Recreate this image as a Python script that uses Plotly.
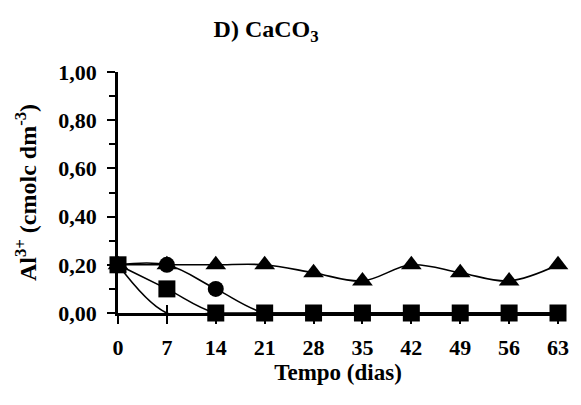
import plotly.graph_objects as go

days = [0, 7, 14, 21, 28, 35, 42, 49, 56, 63]
tri_vals = [0.20, 0.20, 0.20, 0.20, 0.167, 0.133, 0.20, 0.167, 0.133, 0.20]
circ_vals = [0.20, 0.20, 0.10, 0.00, 0.00, 0.00, 0.00, 0.00, 0.00, 0.00]
sq_vals = [0.20, 0.10, 0.00, 0.00, 0.00, 0.00, 0.00, 0.00, 0.00, 0.00]
plain_vals = [0.20, 0.00, 0.00, 0.00, 0.00, 0.00, 0.00, 0.00, 0.00, 0.00]

y_tickvals = [0, 0.2, 0.4, 0.6, 0.8, 1.0]
y_ticktext = ["0,00", "0,20", "0,40", "0,60", "0,80", "1,00"]
x_ticktext = [str(d) for d in days]

FONT = "Liberation Serif"
line_style = dict(color="black", width=1.6, shape="spline", smoothing=1)

fig = go.Figure()
fig.add_trace(go.Scatter(x=days, y=plain_vals, mode="lines", line=line_style,
                         cliponaxis=False, showlegend=False))
fig.add_trace(go.Scatter(x=days, y=tri_vals, mode="lines+markers", line=line_style,
                         marker=dict(symbol="triangle-up", size=18, color="black"),
                         cliponaxis=False, showlegend=False))
fig.add_trace(go.Scatter(x=days, y=circ_vals, mode="lines+markers", line=line_style,
                         marker=dict(symbol="circle", size=16, color="black"),
                         cliponaxis=False, showlegend=False))
fig.add_trace(go.Scatter(x=days, y=sq_vals, mode="lines+markers", line=line_style,
                         marker=dict(symbol="square", size=17, color="black"),
                         cliponaxis=False, showlegend=False))
# invisible trace to activate overlay axis used for crossing ticks
fig.add_trace(go.Scatter(x=[days[0]], y=[0], xaxis="x2", mode="markers",
                         marker=dict(opacity=0), hoverinfo="skip", showlegend=False))

fig.update_layout(
    width=581, height=405,
    margin=dict(l=118, r=12, t=72, b=92),
    paper_bgcolor="white", plot_bgcolor="white",
    font=dict(family=FONT, color="black", size=22),
    title=dict(text="<b>D) CaCO<sub>3</sub></b>", x=0.458, xanchor="center",
               y=0.93, yanchor="middle", font=dict(size=24, family=FONT)),
    xaxis=dict(range=[0, 63], tickvals=days, ticktext=x_ticktext,
               showgrid=False, zeroline=False, showline=True, linecolor="black",
               linewidth=2.5, ticks="outside", ticklen=8, tickwidth=2, tickcolor="black",
               ticklabelstandoff=5,
               tickfont=dict(size=22, family=FONT, weight="bold"),
               title=dict(text="<b>Tempo (dias)</b>", font=dict(size=23, family=FONT), standoff=2)),
    xaxis2=dict(range=[0, 63], overlaying="x", anchor="y", side="bottom",
                tickvals=days, ticks="inside", ticklen=8, tickwidth=2, tickcolor="black",
                showticklabels=False, showgrid=False, zeroline=False, showline=False),
    yaxis=dict(range=[0, 1], tickvals=y_tickvals, ticktext=y_ticktext,
               showgrid=False, zeroline=False, showline=True, linecolor="black",
               linewidth=2.5, ticks="outside", ticklen=8, tickwidth=2, tickcolor="black",
               ticklabelstandoff=6,
               minor=dict(dtick=0.1, ticks="outside", ticklen=6, tickwidth=2, tickcolor="black"),
               tickfont=dict(size=22, family=FONT, weight="bold"),
               title=dict(text="<b>Al<sup>3+</sup> (cmolc dm<sup>-3</sup>)</b>",
                          font=dict(size=24, family=FONT), standoff=15)),
)

fig.write_html("out.html")
